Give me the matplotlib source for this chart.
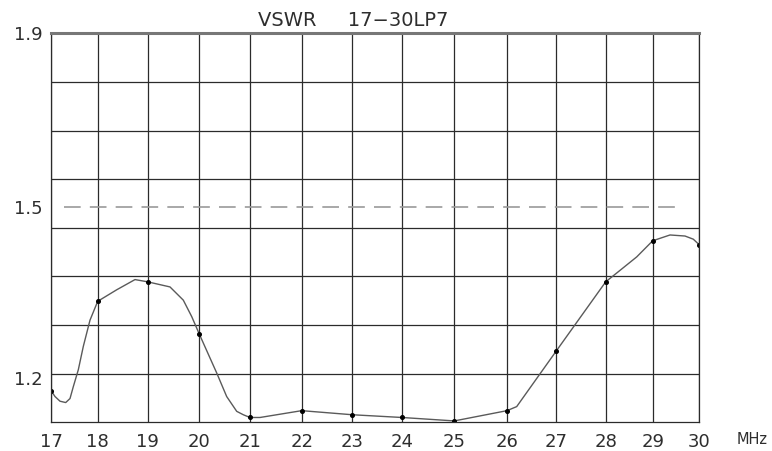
import numpy as np
import matplotlib
matplotlib.use('Agg')
import matplotlib.pyplot as plt

# measured points (the dots), MHz vs VSWR
freq_pts = [17, 18, 19, 20, 21, 22, 23, 24, 25, 26, 27, 28, 29, 30]
vswr_pts = [1.181, 1.325, 1.359, 1.270, 1.141, 1.151, 1.145,
            1.141, 1.136, 1.151, 1.242, 1.359, 1.434, 1.427]

# the drawn trace, with the bends between the dots
freq_curve = [17.000, 17.086, 17.193, 17.315, 17.407, 17.478, 17.585, 17.692,
              17.835, 18.000, 18.380, 18.746, 19.000, 19.432, 19.690, 19.853,
              20.000, 20.343, 20.540, 20.738, 20.868, 21.000, 21.193, 22.000,
              23.000, 24.000, 25.000, 26.000, 26.198, 27.000, 28.000, 28.268,
              28.660, 29.000, 29.374, 29.698, 29.877, 30.000]
vswr_curve = [1.181, 1.172, 1.165, 1.163, 1.169, 1.187, 1.213, 1.250,
              1.293, 1.325, 1.345, 1.363, 1.359, 1.350, 1.327, 1.299,
              1.270, 1.208, 1.172, 1.150, 1.145, 1.141, 1.141, 1.151,
              1.145, 1.141, 1.136, 1.151, 1.157, 1.242, 1.359, 1.377,
              1.404, 1.434, 1.445, 1.443, 1.437, 1.427]

ref_vswr = 1.5
ref_from, ref_to = 17.28, 29.5

y_labels = [1.2, 1.5, 1.9]
y_min, y_max = 1.134, 1.9

# the sheet's columns are not evenly spaced, so follow them (pixels)
col_px = np.array([51, 97.7, 147.7, 199.3, 250, 301.7, 352.3,
                   402, 454.3, 507, 556, 605.7, 652.7, 699])
cols = np.array(freq_pts, dtype=float)

def fwd_x(f):
    return np.interp(f, cols, col_px)

def inv_x(p):
    return np.interp(p, col_px, cols)

# VSWR sheets are linear in reflection coefficient
def to_gamma(s):
    s = np.asarray(s, dtype=float)
    return (s - 1) / (s + 1)

def from_gamma(g):
    g = np.asarray(g, dtype=float)
    return (1 + g) / (1 - g)

ink = '#2b2b2b'
txt = '#2e2e2e'
fig = plt.figure(figsize=(7.72, 4.51), dpi=100)
ax = fig.add_axes([51 / 772, 28.7 / 451, 648 / 772, 389 / 451])
ax.set_xscale('function', functions=(fwd_x, inv_x))
ax.set_yscale('function', functions=(to_gamma, from_gamma))
ax.set_xlim(17, 30)
ax.set_ylim(y_min, y_max)

ax.set_xticks(freq_pts)
ax.set_xticklabels([str(f) for f in freq_pts])
ax.set_yticks(y_labels)
ax.set_yticklabels([str(v) for v in y_labels])
rows = from_gamma(np.linspace(to_gamma(y_min), to_gamma(y_max), 9))
ax.set_yticks(rows[1:-1], minor=True)
ax.set_xticks([], minor=True)

ax.grid(axis='x', which='major', color=ink, lw=0.9)
ax.grid(axis='y', which='minor', color=ink, lw=0.9)
ax.grid(axis='y', which='major', visible=False)
ax.tick_params(length=0, which='both', labelsize=13, labelcolor=txt)
ax.tick_params(axis='x', pad=8)
ax.tick_params(axis='y', pad=6)
for side in ['left', 'right', 'bottom']:
    ax.spines[side].set_color(ink)
    ax.spines[side].set_linewidth(0.9)
ax.spines['top'].set_color('#777777')
ax.spines['top'].set_linewidth(2.2)

ax.plot([ref_from, ref_to], [ref_vswr, ref_vswr], color='#999999', lw=1.2,
        dashes=(10, 5.5))
ax.plot(freq_curve, vswr_curve, color='#5a5a5a', lw=1.0)
ax.plot(freq_pts, vswr_pts, ls='none', marker='o', ms=2.6, color='black')

fig.text(258 / 772, 1 - 26.5 / 451, 'VSWR     17\u221230LP7', fontsize=14,
         color=txt, ha='left', va='baseline')
fig.text(752 / 772, 1 - 440 / 451, 'MHz', fontsize=10.5, color=txt,
         ha='center', va='center')

fig.savefig('out.png', dpi=100)
